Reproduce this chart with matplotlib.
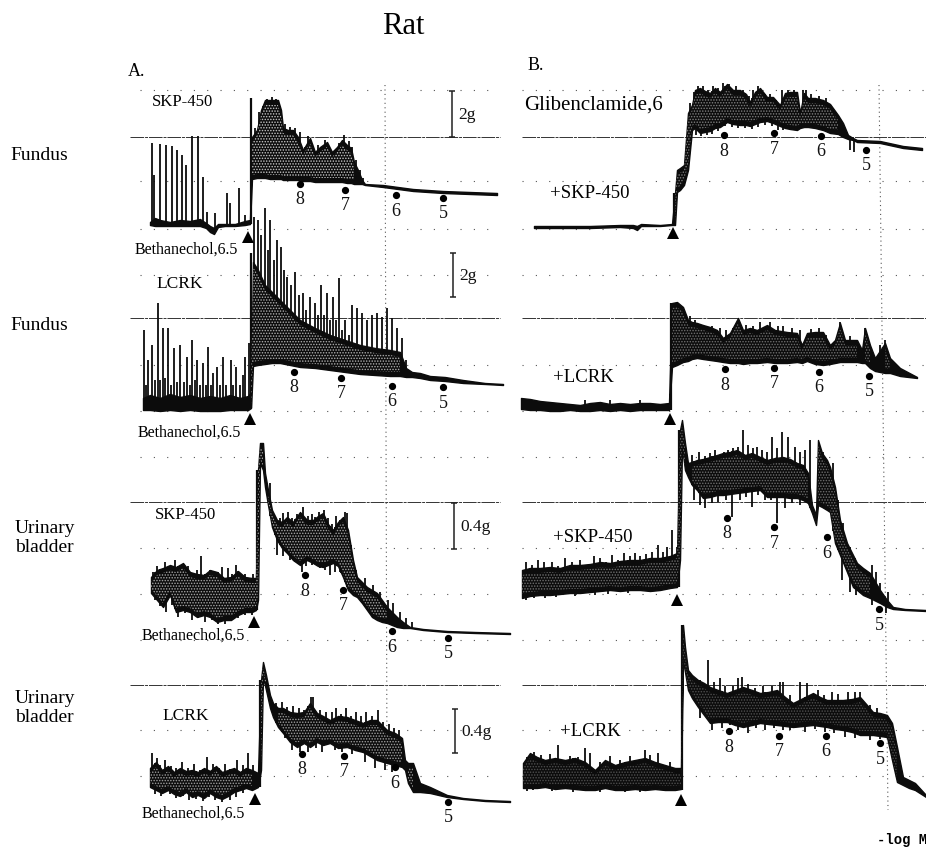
import numpy as np
import matplotlib.pyplot as plt

plt.rcParams['font.family'] = ['Liberation Serif', 'DejaVu Serif']
plt.rcParams['hatch.linewidth'] = 0.7

#%% traces: x, upper edge, lower edge, spikes up, spikes down, rise (x, top, bottom)
a1_x = [150,155,160,170,180,190,200,206,210,214,218,225,235,245,250,252,257,261,265,270,278,281,283,288,293,298,303,310,315,320,327,332,337,342,347,351,354,358,362,365,383,413,443,470,497]
a1_top = [222,218,220,222,220,221,219,223,226,228,224,224,224,221,220,137,130,110,100,100,100,110,128,130,130,137,150,138,152,147,142,152,147,140,145,148,162,170,180,184,185,189,191,192,193]
a1_bot = [225,226,226,226,226,226,226,228,232,234,227,226,226,225,224,179,178,178,178,179,179,179,180,180,180,180,181,181,182,182,182,182,182,182,183,183,184,184,184,185,187,191,193,194,195]
a1_up_x = [152,154,160,166,172,177,182,186,192,198,203,207,215,227,230,239,245,251,255,259,263,267,272,276,280,285,290,295,300,305,308,312,318,323,325,329,335,339,344,349,352,356,360,363]
a1_up_y = [143,175,144,145,146,150,155,165,136,136,177,212,213,193,203,188,215,98,128,112,106,99,97,99,106,124,127,128,132,147,136,150,145,150,140,150,150,143,135,141,147,160,170,178]
a1_down_x = []
a1_down_y = []
a1_rise = [250.5, 98, 224]

a2_x = [143,150,160,170,180,190,200,210,220,230,240,248,251,253,258,265,272,280,290,300,315,330,345,360,375,390,400,406,412,420,430,445,463,485,503]
a2_top = [398,395,398,394,397,395,398,396,398,395,398,396,392,262,270,285,292,300,310,320,328,335,340,345,348,350,352,368,372,373,376,377,380,383,384]
a2_bot = [410,410,411,410,411,410,411,411,411,410,410,410,408,366,365,364,363,363,365,367,368,370,372,374,375,376,376,377,377,378,380,381,383,384,385]
a2_up_x = [144,146,148,152,155,158,160,163,165,168,171,174,177,180,184,187,190,192,195,197,200,203,206,208,211,213,217,220,223,226,231,233,236,240,243,245,249,254,258,261,265,268,270,274,277,281,284,287,291,295,299,303,306,310,315,318,321,324,327,330,333,336,339,342,345,349,352,357,362,367,372,377,382,387,392,397,402,406]
a2_up_y = [330,385,360,345,380,303,380,328,378,328,385,348,382,345,382,357,385,340,380,360,385,363,385,347,385,373,367,385,357,385,360,385,367,385,375,357,343,217,220,235,208,250,220,260,240,247,270,277,285,272,295,293,310,297,303,315,285,315,293,320,297,320,278,330,320,335,305,308,313,320,315,313,317,308,318,328,338,360]
a2_down_x = []
a2_down_y = []
a2_rise = [251, 253, 408]

a3_x = [151,157,163,170,176,183,190,197,204,210,217,224,231,238,245,252,256,258,260,263,265,268,272,277,282,287,293,300,307,313,318,323,328,333,338,343,348,353,357,362,367,372,377,382,387,392,397,403,410,423,447,475,510]
a3_top = [577,570,568,565,567,563,572,574,575,570,572,578,577,571,577,578,578,470,443,443,473,490,510,520,522,517,522,512,520,520,516,513,524,530,522,517,530,560,577,582,587,590,593,600,607,612,617,622,627,629,631,632,633]
a3_bot = [593,600,607,595,612,610,612,617,615,617,622,620,620,615,612,612,610,600,463,470,487,505,527,540,548,553,560,565,560,563,566,567,565,563,566,577,590,595,597,603,610,617,620,622,623,625,627,628,628,630,632,633,634]
a3_up_x = [153,157,160,165,168,175,180,184,188,193,197,201,205,210,214,218,222,228,232,236,240,245,249,253,270,275,280,283,288,292,297,303,308,312,315,319,324,328,332,336,341,345,347,351,356,365,373,380,388,393,400,406,412]
a3_up_y = [572,566,570,562,572,560,568,572,566,574,570,556,574,570,576,572,567,568,574,565,576,574,578,574,483,516,518,513,512,518,514,507,516,514,517,512,510,518,524,516,525,512,513,545,570,578,585,592,600,603,612,618,622]
a3_down_x = [155,160,166,172,178,185,192,198,205,212,218,225,232,238,245,252,277,283,290,295,302,306,312,316,320,325,330,335,340]
a3_down_y = [600,606,612,605,617,613,620,618,622,620,624,624,620,618,615,615,555,556,560,562,572,566,565,564,568,570,575,572,572]
a3_rise = [257, 470, 610]

a4_x = [150,156,162,168,174,180,186,192,198,204,210,216,222,228,234,240,246,252,258,261,263,266,270,273,278,283,290,297,304,310,317,323,330,338,347,355,363,370,377,387,395,402,405,408,413,420,430,447,463,485,510]
a4_top = [768,762,770,766,772,768,771,770,772,768,771,766,772,770,768,772,768,770,773,680,662,675,695,703,708,708,712,713,712,703,713,716,720,716,717,720,723,720,720,730,733,738,760,763,763,783,787,795,798,800,801]
a4_bot = [787,790,793,790,794,796,792,797,795,798,793,797,799,796,792,790,788,790,787,770,677,690,708,717,727,733,742,747,743,747,742,745,743,748,747,750,752,756,760,763,765,767,770,783,792,792,793,797,799,801,802]
a4_up_x = [152,157,160,165,171,176,182,188,194,200,207,213,219,225,231,237,243,248,253,276,282,287,293,299,304,311,313,320,326,332,336,341,346,351,356,361,366,372,378,383,389,394,399]
a4_up_y = [753,758,765,760,766,768,762,768,764,770,757,764,768,764,770,760,765,753,765,703,702,707,706,708,710,697,697,710,712,712,708,714,708,716,712,716,712,716,710,722,724,728,730]
a4_down_x = [155,161,170,176,183,189,196,203,209,215,222,230,236,243,285,292,300,308,316,322,335,342,352,365,375,385,392]
a4_down_y = [794,796,794,798,796,800,799,801,797,800,802,800,797,793,738,750,752,752,748,752,750,752,754,762,768,770,772]
a4_rise = [260, 680, 787]

b1_x = [534,560,590,620,633,637,641,660,672,675,677,680,684,688,692,695,700,705,710,715,720,727,733,740,746,750,755,760,767,773,780,785,790,797,800,804,808,815,823,830,838,843,848,853,857,880,903,922]
b1_top = [226,226,226,225,225,226,224,225,224,193,170,168,165,113,105,90,88,91,93,88,92,84,90,90,94,102,92,88,97,97,105,93,92,92,113,93,98,98,100,104,115,123,135,138,140,141,146,148]
b1_bot = [228,228,228,227,228,230,226,226,225,225,192,190,185,170,130,128,133,132,131,128,127,122,124,125,125,126,124,122,121,123,126,128,129,130,128,127,127,128,130,133,134,137,139,140,142,143,148,150]
b1_up_x = [690,694,698,703,708,713,718,723,729,736,743,749,753,758,763,770,776,782,788,794,803,806,811,819,826,833,840,845]
b1_up_y = [103,92,86,86,90,86,88,83,84,86,90,96,90,86,92,94,100,90,90,90,90,90,94,96,98,108,118,130]
b1_down_x = [696,701,707,712,718,725,732,738,745,752,758,765,772,778,783,850,854]
b1_down_y = [135,136,135,134,131,126,127,128,128,129,127,125,126,130,130,150,152]
b1_rise = [674, 193, 225]

b2_x = [521,530,540,550,560,570,580,590,600,610,620,630,640,650,660,669,672,677,683,688,692,697,703,710,717,723,730,738,743,750,757,767,775,787,797,802,807,815,823,830,835,840,845,857,862,865,870,875,885,890,900,917]
b2_top = [398,399,401,402,403,404,405,403,402,404,403,404,403,403,404,403,303,302,307,320,322,323,325,327,330,338,333,318,330,328,330,325,330,332,333,345,333,332,332,345,340,323,340,340,350,328,345,358,343,358,368,377]
b2_bot = [409,410,410,411,411,410,411,411,410,411,410,411,410,410,410,410,367,365,362,361,359,358,359,360,361,362,363,363,364,363,363,362,363,363,362,363,361,364,365,364,363,362,362,362,363,363,368,371,373,373,376,378]
b2_up_x = [585,610,640,690,695,700,706,712,720,726,733,746,753,760,770,778,783,792,800,811,819,826,840,850,865,880,885]
b2_up_y = [400,400,400,316,320,324,326,326,328,330,328,325,326,322,322,326,326,328,330,329,328,335,322,336,328,345,340]
b2_down_x = []
b2_down_y = []
b2_rise = [671, 303, 410]

b3_x = [522,530,540,550,560,570,580,590,600,610,620,630,640,650,660,670,677,680,682,685,688,692,697,703,710,717,723,730,737,745,752,760,767,775,783,790,797,803,808,812,816,818,822,827,830,835,840,847,853,857,863,870,880,887,893,905,926]
b3_top = [570,568,568,567,568,565,565,564,562,563,561,560,560,558,558,556,553,430,420,443,463,462,460,459,457,455,453,452,450,455,453,457,460,458,457,459,463,465,473,505,515,440,453,460,467,487,520,543,555,563,568,573,590,600,607,609,610]
b3_bot = [598,596,595,595,594,593,593,592,591,590,591,590,590,591,590,588,587,560,447,470,477,485,490,498,497,495,495,494,493,492,491,490,497,497,497,498,498,500,503,513,525,505,507,510,512,543,555,572,587,590,595,598,603,607,609,610,611]
b3_up_x = [526,532,538,544,552,558,565,572,580,586,594,600,606,612,618,624,630,635,640,646,652,658,663,667,672,677,692,699,705,710,715,720,724,728,733,738,743,748,753,757,762,767,772,777,782,788,795,800,805,810,823,828,833,838,843,850,855,860,866,872,876,880,888]
b3_up_y = [562,565,560,562,562,566,558,562,560,565,556,558,562,555,560,553,556,553,556,554,552,545,552,547,530,547,455,452,456,453,450,457,452,450,448,447,430,445,448,447,450,452,437,448,432,437,447,452,450,440,452,463,463,500,523,547,558,567,570,565,572,583,592]
b3_down_x = [526,534,545,556,575,595,608,628,650,694,700,705,712,718,726,732,740,746,752,758,765,771,777,785,792,800,842,850,856,872,886]
b3_down_y = [600,598,598,597,596,595,594,593,592,500,505,508,503,502,500,517,500,497,507,495,500,500,523,508,503,505,580,592,595,605,613]
b3_rise = [678.5, 430, 587]

b4_x = [523,530,537,545,555,565,575,585,595,605,615,625,635,645,655,665,675,681,683,685,688,692,698,704,710,718,727,735,743,752,760,768,777,785,793,803,813,820,827,835,843,852,860,867,873,880,887,892,897,903,909,915,926]
b4_top = [763,753,757,760,758,760,758,762,770,760,765,762,760,758,762,765,768,768,625,647,670,675,680,683,687,690,693,690,687,690,693,692,690,697,703,698,693,697,700,700,700,699,697,705,712,713,715,723,747,777,780,783,795]
b4_bot = [788,788,788,787,789,788,789,790,790,788,790,790,789,790,789,790,790,789,660,672,690,698,707,715,723,722,722,725,727,725,723,724,725,726,727,726,725,726,727,729,730,732,735,735,735,736,737,760,782,785,788,790,797]
b4_up_x = [534,541,550,558,570,578,585,590,600,610,620,630,645,650,658,670,700,708,714,720,725,733,738,742,748,755,763,772,780,783,790,800,807,818,824,832,838,848,855,860,870,877]
b4_up_y = [752,755,754,745,756,757,748,753,762,756,760,756,750,755,753,762,680,660,682,678,686,686,678,677,684,688,686,686,682,682,695,682,683,690,695,692,694,692,692,692,705,708]
b4_down_x = [527,533,552,573,600,625,640,700,712,722,730,738,748,756,765,774,783,790,805,815,825,834,845,855,870,880]
b4_down_y = [791,790,791,792,792,792,792,718,730,728,725,730,733,728,730,728,730,730,732,729,732,733,737,738,740,739]
b4_rise = [682, 625, 790]

#%% annotations
major_y = [137, 318, 502, 685]
minor_y = [90, 181, 229, 275, 365, 411, 457, 548, 594, 640, 730, 776]

dose_labels = ['8', '7', '6', '5']
dose_a1_x = [300, 345, 396, 443]
dose_a1_y = [184, 190, 195, 198]
dose_a2_x = [294, 341, 392, 443]
dose_a2_y = [372, 378, 386, 387]
dose_a3_x = [305, 343, 392, 448]
dose_a3_y = [575, 590, 631, 638]
dose_a4_x = [302, 344, 395, 448]
dose_a4_y = [754, 756, 767, 802]
dose_b1_x = [724, 774, 821, 866]
dose_b1_y = [135, 133, 136, 150]
dose_b2_x = [725, 774, 819, 869]
dose_b2_y = [369, 368, 372, 376]
dose_b3_x = [727, 774, 827, 879]
dose_b3_y = [518, 527, 537, 609]
dose_b4_x = [729, 779, 826, 880]
dose_b4_y = [731, 736, 736, 743]

tri_x = [248, 250, 254, 255, 673, 670, 677, 681]
tri_y = [237, 419, 622, 799, 233, 419, 600, 800]

bar_x = [452, 453, 454, 455]
bar_top = [91, 253, 503, 709]
bar_bot = [137, 297, 549, 753]
bar_labels = ['2g', '2g', '0.4g', '0.4g']

#%%
fig = plt.figure(figsize=(9.26, 8.48), dpi=100)
ax = fig.add_axes([0, 0, 1, 1])
ax.set_xlim(0, 926)
ax.set_ylim(848, 0)
ax.axis('off')


def trace(x, top, bot, up_x, up_y, down_x, down_y, rise, speck):
    x = np.array(x)
    top = np.array(top)
    bot = np.array(bot)
    ax.fill_between(x, top, bot, color='#0c0c0c', lw=1.0, zorder=3)
    ax.vlines(up_x, up_y, np.interp(up_x, x, bot), color='#0c0c0c', lw=1.3, zorder=3)
    ax.vlines(down_x, down_y, np.interp(down_x, x, top), color='#0c0c0c', lw=1.3, zorder=3)
    ax.vlines(rise[0], rise[1], rise[2], color='#0c0c0c', lw=1.6, zorder=3)
    # the speckled middle of the thick parts
    ax.fill_between(x, top + 5, bot - 4, where=(bot - top) > 14, facecolor='none', edgecolor=speck,
                    hatch='......', lw=0, zorder=4)


trace(a1_x, a1_top, a1_bot, a1_up_x, a1_up_y, a1_down_x, a1_down_y, a1_rise, '#c8c8c8')
trace(a2_x, a2_top, a2_bot, a2_up_x, a2_up_y, a2_down_x, a2_down_y, a2_rise, '#b0b0b0')
trace(a3_x, a3_top, a3_bot, a3_up_x, a3_up_y, a3_down_x, a3_down_y, a3_rise, '#a8a8a8')
trace(a4_x, a4_top, a4_bot, a4_up_x, a4_up_y, a4_down_x, a4_down_y, a4_rise, '#a0a0a0')
trace(b1_x, b1_top, b1_bot, b1_up_x, b1_up_y, b1_down_x, b1_down_y, b1_rise, '#808080')
trace(b2_x, b2_top, b2_bot, b2_up_x, b2_up_y, b2_down_x, b2_down_y, b2_rise, '#707070')
trace(b3_x, b3_top, b3_bot, b3_up_x, b3_up_y, b3_down_x, b3_down_y, b3_rise, '#707070')
trace(b4_x, b4_top, b4_bot, b4_up_x, b4_up_y, b4_down_x, b4_down_y, b4_rise, '#505050')

# chart paper grid
ax.hlines(major_y, 130, 500, color='#333333', lw=0.7, linestyles=[(0, (14, 1, 3, 1))], zorder=1)
ax.hlines(major_y, 522, 926, color='#333333', lw=0.7, linestyles=[(0, (14, 1, 3, 1))], zorder=1)
ax.hlines(minor_y, 140, 500, color='#555555', lw=0.8, linestyles=[(0, (1, 11))], zorder=1)
ax.hlines(minor_y, 522, 926, color='#555555', lw=0.8, linestyles=[(0, (1, 11))], zorder=1)
ax.plot([385, 387], [85, 770], color='#555555', lw=0.8, ls=(0, (1, 3)), zorder=1)
ax.plot([879, 888], [85, 810], color='#555555', lw=0.8, ls=(0, (1, 3)), zorder=1)

# dose marks
for dx, dy in [(dose_a1_x, dose_a1_y), (dose_a2_x, dose_a2_y), (dose_a3_x, dose_a3_y), (dose_a4_x, dose_a4_y),
               (dose_b1_x, dose_b1_y), (dose_b2_x, dose_b2_y), (dose_b3_x, dose_b3_y), (dose_b4_x, dose_b4_y)]:
    ax.plot(dx, dy, 'o', color='black', ms=4.2, zorder=5)
    for lab, px, py in zip(dose_labels, dx, dy):
        ax.text(px, py + 16, lab, fontsize=13, ha='center', va='center', color='#111111')

ax.plot(tri_x, tri_y, '^', color='black', ms=8.5, mew=0, zorder=5)

# scale bars
ax.vlines(bar_x, bar_top, bar_bot, color='#222222', lw=1.1, zorder=5)
ax.hlines(bar_top + bar_bot, np.array(bar_x * 2) - 3, np.array(bar_x * 2) + 3, color='#222222', lw=1.1, zorder=5)
for lab, px, t, b in zip(bar_labels, bar_x, bar_top, bar_bot):
    ax.text(px + 6, (t + b) / 2 + 1, lab, fontsize=12.5, va='center', ha='left', color='#111111')

# labels
ax.text(403, 27, 'Rat', fontsize=22, ha='center', va='center')
ax.text(128, 72, 'A.', fontsize=13, va='center')
ax.text(528, 66, 'B.', fontsize=13, va='center')
ax.text(10, 155, 'Fundus', fontsize=14, va='center')
ax.text(10, 325, 'Fundus', fontsize=14, va='center')
ax.text(15, 538, 'Urinary\nbladder', fontsize=14, va='center', linespacing=1.15)
ax.text(15, 708, 'Urinary\nbladder', fontsize=14, va='center', linespacing=1.15)

ax.text(152, 102, 'SKP-450', fontsize=12, va='center')
ax.text(156, 284, 'LCRK', fontsize=12.5, va='center')
ax.text(155, 515, 'SKP-450', fontsize=12, va='center')
ax.text(162, 716, 'LCRK', fontsize=12.5, va='center')
ax.text(135, 250, 'Bethanechol,6.5', fontsize=11.5, va='center')
ax.text(138, 433, 'Bethanechol,6.5', fontsize=11.5, va='center')
ax.text(142, 636, 'Bethanechol,6.5', fontsize=11.5, va='center')
ax.text(142, 814, 'Bethanechol,6.5', fontsize=11.5, va='center')

ax.text(524, 105, 'Glibenclamide,6', fontsize=15, va='center')
ax.text(550, 194, '+SKP-450', fontsize=13.5, va='center')
ax.text(553, 378, '+LCRK', fontsize=13.5, va='center')
ax.text(553, 537, '+SKP-450', fontsize=13.5, va='center')
ax.text(560, 731, '+LCRK', fontsize=13.5, va='center')
ax.text(877, 840, '-log M', fontsize=10, va='center', weight='bold', family=['Liberation Mono', 'DejaVu Sans Mono'])

fig.savefig('out.png', dpi=100)
